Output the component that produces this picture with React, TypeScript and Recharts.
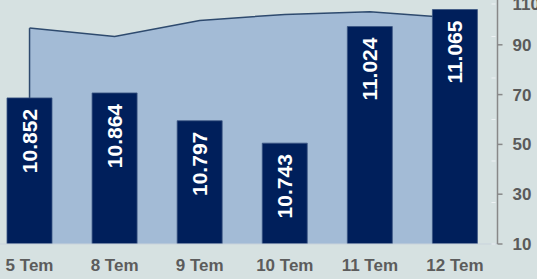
import React from 'react';
import { ComposedChart, Bar, Area, XAxis, YAxis, LabelList, ReferenceLine } from 'recharts';

const categories = ['5 Tem', '8 Tem', '9 Tem', '10 Tem', '11 Tem', '12 Tem'];
const barValues = [10.852, 10.864, 10.797, 10.743, 11.024, 11.065];
const areaValues = [96.7, 93.3, 99.8, 102.2, 103.3, 100.8];
const rightTicks = [10, 30, 50, 70, 90, 110];
const barTicks = [10.5, 10.6, 10.7, 10.8, 10.9, 11.0, 11.1];

const AREA_DOMAIN: [number, number] = [10, 110];
const BAR_DOMAIN: [number, number] = [10.5, 11.1];

const data = categories.map((c, i) => ({ cat: c, bar: barValues[i], area: areaValues[i] }));

// bar top of first category expressed on the area axis (so the area's left edge stops at the bar)
const firstBarOnAreaAxis =
  AREA_DOMAIN[0] +
  ((barValues[0] - BAR_DOMAIN[0]) / (BAR_DOMAIN[1] - BAR_DOMAIN[0])) * (AREA_DOMAIN[1] - AREA_DOMAIN[0]);

const FONT = '"Liberation Sans", Arial, sans-serif';

const BarLabel = (props: any) => {
  const { x, y, width, value } = props;
  const cx = x + width / 2;
  const ty = y + 11;
  return (
    <text
      x={cx}
      y={ty}
      transform={`rotate(-90, ${cx}, ${ty})`}
      textAnchor="end"
      dominantBaseline="central"
      fill="#ffffff"
      fontSize={21}
      fontWeight="bold"
      fontFamily={FONT}
    >
      {Number(value).toFixed(3)}
    </text>
  );
};

const MinorTick = (props: any) => {
  const { x, y } = props;
  return <line x1={x - 6} x2={x - 2} y1={y} y2={y} stroke="#eef2f4" strokeWidth={1} />;
};

const RightTick = (props: any) => {
  const { x, y, payload } = props;
  return (
    <text
      x={x}
      y={y}
      dy="0.355em"
      textAnchor="start"
      fill="#5a5a5a"
      fontSize={17}
      fontWeight="bold"
      fontFamily={FONT}
    >
      {payload.value}
    </text>
  );
};

export default function App() {
  return (
    <div
      style={{
        position: 'fixed',
        left: 0,
        top: 0,
        width: 537,
        height: 279,
        overflow: 'hidden',
        background: '#d6e1e1',
      }}
    >
      <div style={{ position: 'absolute', left: -13.5, top: -5.5 }}>
        <ComposedChart
          width={554.5}
          height={289}
          data={data}
          margin={{ top: 0, right: 0, bottom: 0, left: 0 }}
          barSize={45}
        >
          <XAxis
            dataKey="cat"
            xAxisId="x"
            tickLine={false}
            tickSize={0}
            tickMargin={15}
            height={40}
            axisLine={{ stroke: '#c9d3dc', strokeWidth: 1 }}
            tick={{ fill: '#5c5c5c', fontSize: 17, fontWeight: 'bold', fontFamily: FONT }}
            interval={0}
          />
          <YAxis
            yAxisId="bar"
            orientation="right"
            mirror
            width={1}
            domain={BAR_DOMAIN}
            ticks={barTicks}
            allowDataOverflow
            axisLine={false}
            tickLine={false}
            tickSize={0}
            tickMargin={0}
            tick={<MinorTick />}
          />
          <YAxis
            yAxisId="area"
            orientation="right"
            width={44}
            domain={AREA_DOMAIN}
            ticks={rightTicks}
            allowDataOverflow
            axisLine={{ stroke: '#888888', strokeWidth: 1.5 }}
            tickLine={{ stroke: '#888888', strokeWidth: 1.5 }}
            tickSize={5}
            tickMargin={10}
            tick={<RightTick />}
          />
          <Area
            xAxisId="x"
            yAxisId="area"
            dataKey="area"
            type="linear"
            fill="#a3bbd6"
            fillOpacity={1}
            stroke="#2e4a6e"
            strokeWidth={1.5}
            baseValue={AREA_DOMAIN[0]}
            isAnimationActive={false}
            dot={false}
            activeDot={false}
          />
          <ReferenceLine
            xAxisId="x"
            yAxisId="area"
            segment={[
              { x: categories[0], y: firstBarOnAreaAxis },
              { x: categories[0], y: areaValues[0] },
            ]}
            stroke="#2e4a6e"
            strokeWidth={1.5}
          />
          <Bar
            xAxisId="x"
            yAxisId="bar"
            dataKey="bar"
            fill="#001f5b"
            stroke="#3b5683"
            strokeWidth={0.8}
            isAnimationActive={false}
          >
            <LabelList dataKey="bar" content={<BarLabel />} />
          </Bar>
        </ComposedChart>
      </div>
    </div>
  );
}
